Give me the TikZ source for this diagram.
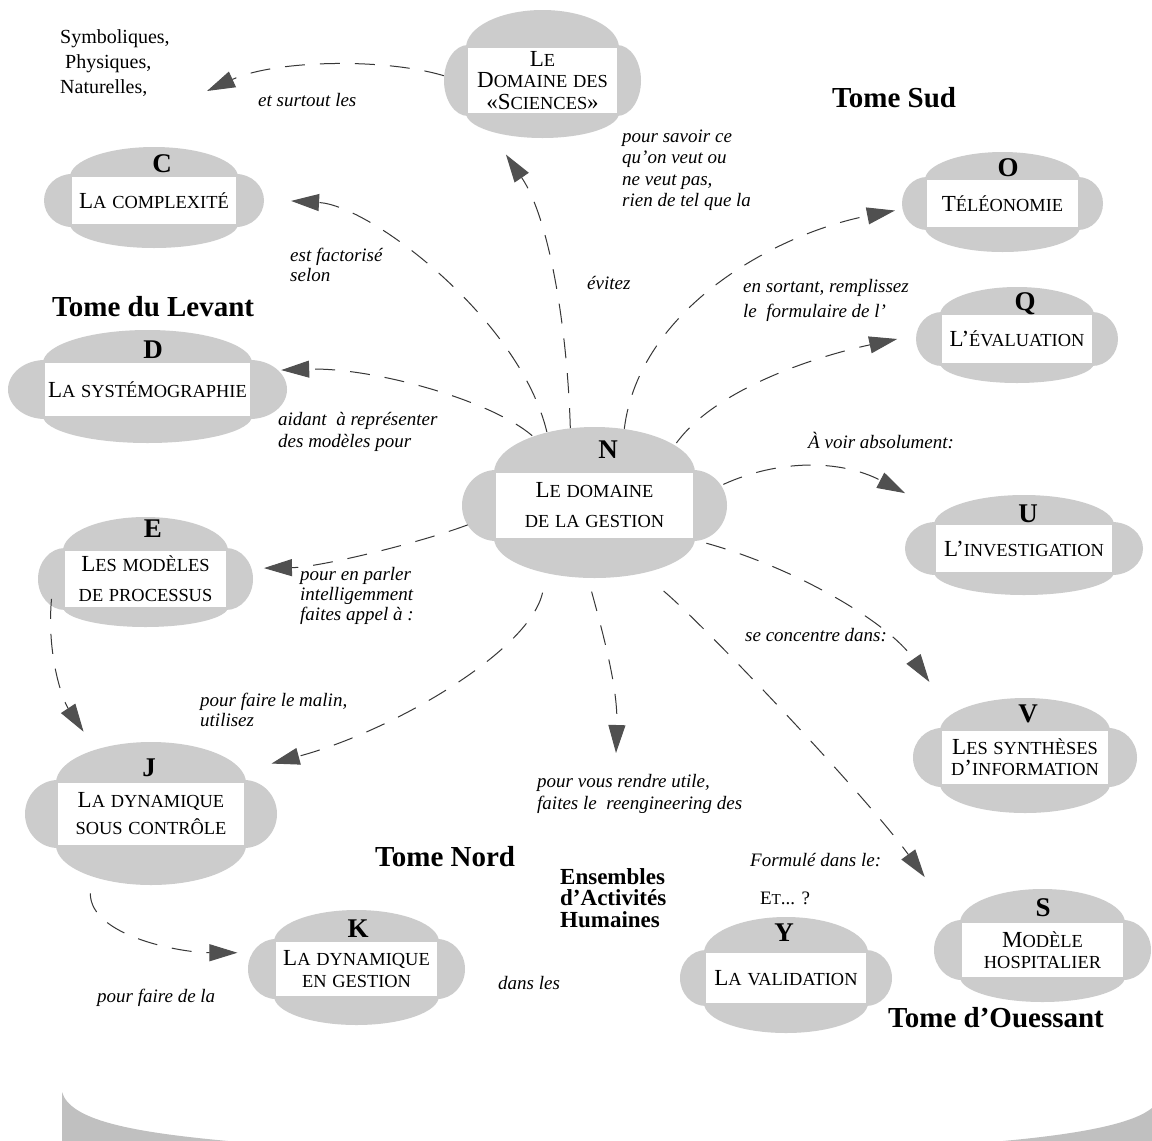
\documentclass[tikz,border=0pt]{standalone}
\usepackage{fontspec}
\setmainfont{Liberation Serif}
\usetikzlibrary{arrows.meta,shapes.geometric}

\definecolor{cloudgray}{RGB}{204,204,204}
\definecolor{bandgray}{RGB}{192,192,192}
\definecolor{linegray}{RGB}{55,55,55}
\definecolor{headgray}{RGB}{80,80,80}

% small capitals built from scaled capitals
\makeatletter
\newcommand\fscsmall{\fontsize{\fpeval{0.8*\f@size}}{\f@baselineskip}\selectfont}
\makeatother
\ExplSyntaxOn
\cs_new_protected:Npn \__smcp_char:n #1
  {
    \str_if_eq:eeTF { \text_uppercase:n {#1} } { #1 }
      { #1 }
      { { \fscsmall \text_uppercase:n {#1} } }
  }
\NewDocumentCommand \fsc { m }
  {
    \seq_set_split:Nnn \l_tmpa_seq { ~ } {#1}
    \seq_map_indexed_inline:Nn \l_tmpa_seq
      {
        \int_compare:nNnT {##1} > { 1 } { \c_space_tl }
        \tl_map_function:nN {##2} \__smcp_char:n
      }
  }
\ExplSyntaxOff

% gray cloud: body with rounded caps, two side lobes, and an outline node
% #1 name, #2 cx, #3 cy, #4 box width, #5 box height, #6 top cap, #7 bottom cap, #8 lobe
\newcommand\cloud[8]{%
  \fill[cloudgray] ({#2-#4/2-2},{#3-#5/2})
     arc[start angle=180,end angle=360,x radius={#4/2+2},y radius={#6}]
     -- ({#2+#4/2+2},{#3+#5/2})
     arc[start angle=0,end angle=180,x radius={#4/2+2},y radius={#7}] -- cycle;
  \fill[cloudgray] ({#2-#4/2},{#3}) ellipse[x radius={#8},y radius={#5/2+3}];
  \fill[cloudgray] ({#2+#4/2},{#3}) ellipse[x radius={#8},y radius={#5/2+3}];
  \node[cloudoutline, minimum width={#4+2*#8}, minimum height={#5+#6+#7}]
     (#1) at ({#2},{#3+(#7-#6)/2}) {};
}

\tikzset{
  cloudoutline/.style={ellipse, inner sep=0pt},
  labelbox/.style={fill=white, inner sep=0pt, align=center},
  boxfont/.style={font=\fontsize{23}{#1}\selectfont},
  cloudtag/.style={font=\bfseries\fontsize{27}{27}\selectfont, inner sep=0pt, anchor=base},
  notetext/.style={font=\itshape\fontsize{19}{#1}\selectfont, inner sep=0pt, anchor=west, align=left},
  notetext/.default=21,
  tomelabel/.style={font=\bfseries\fontsize{29}{29}\selectfont, inner sep=0pt, anchor=west},
  linkarrow/.style={draw=linegray, line width=1pt, dash pattern=on 20pt off 15pt,
    -{Triangle[length=28pt,width=17pt,color=headgray]}}
}

\begin{document}
\begin{tikzpicture}[x=1pt,y=-1pt]
\fill[white] (0,0) rectangle (1152,1141);
\useasboundingbox (0,0) rectangle (1152,1141);

% bottom band
\fill[bandgray] (62,1092) .. controls (70,1120) and (130,1132) .. (228,1141) -- (62,1141) -- cycle;
\fill[bandgray] (1003,1141) .. controls (1090,1133) and (1135,1122) .. (1152,1108) -- (1152,1141) -- cycle;

% clouds
\cloud{Sci}{542.5}{80.5}{149}{65}{38}{25}{24}
\cloud{C}{154}{200.5}{164}{47}{30}{24}{28}
\cloud{D}{147.5}{389.5}{205}{53}{33}{27}{37}
\cloud{E}{145.5}{579}{161}{56}{34}{20}{27}
\cloud{J}{151}{814}{186}{62}{41}{40}{33}
\cloud{K}{356.5}{969}{161}{54}{32}{29}{28}
\cloud{N}{594.5}{505.5}{197}{65}{46}{40}{34}
\cloud{O}{1002.5}{203.5}{151}{47}{28}{25}{25}
\cloud{Q}{1017}{339}{150}{48}{28}{20}{26}
\cloud{U}{1024}{548.5}{176}{47}{30}{23}{31}
\cloud{V}{1025}{757.5}{166}{53}{33}{29}{29}
\cloud{S}{1042.5}{950}{161}{54}{34}{25}{28}
\cloud{Y}{786}{978}{160}{50}{36}{30}{26}

% label boxes
\node[labelbox, boxfont=21.5, minimum width=149pt, minimum height=65pt] (Scibox) at (542.5,80.5)
  {\fsc{Le}\\\fsc{Domaine des}\\\fsc{«Sciences»}};
\node[labelbox, boxfont=27, minimum width=164pt, minimum height=47pt] (Cbox) at (154,200.5) {\fsc{La complexité}};
\node[labelbox, boxfont=27, minimum width=205pt, minimum height=53pt] (Dbox) at (147.5,389.5) {\fsc{La systémographie}};
\node[labelbox, boxfont=30, minimum width=161pt, minimum height=56pt] (Ebox) at (145.5,579) {\fsc{Les modèles}\\\fsc{de processus}};
\node[labelbox, boxfont=27, minimum width=186pt, minimum height=62pt] (Jbox) at (151,814) {\fsc{La dynamique}\\\fsc{sous contrôle}};
\node[labelbox, boxfont=22, minimum width=161pt, minimum height=54pt] (Kbox) at (356.5,969) {\fsc{La dynamique}\\\fsc{en gestion}};
\node[labelbox, boxfont=30, minimum width=197pt, minimum height=65pt] (Nbox) at (594.5,505.5) {\fsc{Le domaine}\\\fsc{de la gestion}};
\node[labelbox, boxfont=27, minimum width=151pt, minimum height=47pt] (Obox) at (1002.5,203.5) {\fsc{Téléonomie}};
\node[labelbox, boxfont=27, minimum width=150pt, minimum height=48pt] (Qbox) at (1017,339) {\fsc{L’évaluation}};
\node[labelbox, boxfont=27, minimum width=176pt, minimum height=47pt] (Ubox) at (1024,548.5) {\fsc{L’investigation}};
\node[labelbox, boxfont=21, minimum width=166pt, minimum height=53pt] (Vbox) at (1025,757.5) {\fsc{Les synthèses}\\\fsc{d’information}};
\node[labelbox, boxfont=21, minimum width=161pt, minimum height=54pt] (Sbox) at (1042.5,950) {\fsc{Modèle}\\\fsc{hospitalier}};
\node[labelbox, boxfont=27, minimum width=160pt, minimum height=50pt] (Ybox) at (786,978) {\fsc{La validation}};

% letters
\node[cloudtag] (Ctag) at (162,172) {C};
\node[cloudtag] (Dtag) at (153,358) {D};
\node[cloudtag] (Etag) at (153,537) {E};
\node[cloudtag] (Jtag) at (149,776) {J};
\node[cloudtag] (Ktag) at (358,937) {K};
\node[cloudtag] (Ntag) at (608,458) {N};
\node[cloudtag] (Otag) at (1008,176) {O};
\node[cloudtag] (Qtag) at (1025,310) {Q};
\node[cloudtag] (Utag) at (1028,522) {U};
\node[cloudtag] (Vtag) at (1028,722) {V};
\node[cloudtag] (Stag) at (1043,916) {S};
\node[cloudtag] (Ytag) at (784,941) {Y};

% free texts
\node[inner sep=0pt, anchor=west, align=left, font=\fontsize{20}{25}\selectfont] (sciencelist) at (60,63)
  {Symboliques,\\\hspace*{5pt}Physiques,\\Naturelles,};
\node[inner sep=0pt, font=\fontsize{19}{19}\selectfont] (etq) at (785,898) {\fsc{Et... ?}};
\node[inner sep=0pt, anchor=west, align=left, font=\bfseries\fontsize{23}{21.5}\selectfont] (eah) at (560,898)
  {Ensembles\\d’Activités\\Humaines};

\node[tomelabel] (tsud) at (832,98) {Tome Sud};
\node[tomelabel] (tlevant) at (52,307) {Tome du Levant};
\node[tomelabel] (tnord) at (375,857) {Tome Nord};
\node[tomelabel] (touessant) at (888,1018) {Tome d’Ouessant};

\node[notetext] (lsurtout) at (258,100) {et surtout les};
\node[notetext=21.5] (lsavoir) at (622,170) {pour savoir ce\\qu’on veut ou\\ne veut pas,\\rien de tel que la};
\node[notetext=20] (lfactor) at (290,265) {est factorisé\\selon};
\node[notetext] (levitez) at (587,283) {évitez};
\node[notetext=25] (lsortant) at (743,300) {en sortant, remplissez\\le~~formulaire de l’};
\node[notetext=22] (laidant) at (278,432) {aidant~~à représenter\\des modèles pour};
\node[notetext] (lvoir) at (808,440) {À voir absolument:};
\node[notetext=20] (lparler) at (300,596) {pour en parler\\intelligemment\\faites appel à :};
\node[notetext] (lconcentre) at (745,635) {se concentre dans:};
\node[notetext=20] (lmalin) at (200,710) {pour faire le malin,\\utilisez};
\node[notetext=22] (lutile) at (537,794) {pour vous rendre utile,\\faites le~~reengineering des};
\node[notetext] (lformule) at (750,860) {Formulé dans le:};
\node[notetext] (ldans) at (498,983) {dans les};
\node[notetext] (lfaire) at (97,998) {pour faire de la};

% free arrow ends
\coordinate (symbtip) at (207,91);
\coordinate (downtip) at (616,753);

% connectors
\draw[linkarrow] (Sci.181) .. controls +(-60,-18) and +(68,-31) .. (symbtip);
\draw[linkarrow, shorten >=33pt] (N.108) .. controls +(-3,-100) and +(62,91) .. (Sci.224);
\draw[linkarrow, shorten >=27pt] (N.124) .. controls +(-27,-112) and +(107,6) .. (C.-1);
\draw[linkarrow] (N.133) .. controls +(-42,-36) and +(90,-3) .. (D.7);
\draw[linkarrow, shorten >=11pt] (N.190) .. controls +(-48,18) and +(67,-1) .. (E.2);
\draw[linkarrow, shorten <=20pt, shorten >=22pt] (N.236) .. controls +(-17,77) and +(145,-39) .. (J.24);
\draw[linkarrow, shorten <=14pt] (N.265) .. controls +(17,62) and +(2,-63) .. (downtip);
\draw[linkarrow, shorten <=28pt, shorten >=46pt] (N.-56) .. controls +(60,50) and +(-88,-121) .. (S.161);
\draw[linkarrow, shorten >=37pt] (N.-20) .. controls +(90,25) and +(-62,-90) .. (V.150);
\draw[linkarrow, shorten >=37pt] (N.8) .. controls +(55,-25) and +(-98,-51) .. (U.158);
\draw[linkarrow, shorten >=19pt] (N.36) .. controls +(40,-55) and +(-98,21) .. (Q.180);
\draw[linkarrow, shorten >=8pt] (N.68) .. controls +(15,-120) and +(-128,25) .. (O.184);
\draw[linkarrow, shorten >=21pt] (E.196) .. controls +(-5,55) and +(-33,-50) .. (J.131);
\draw[linkarrow, shorten <=17pt, shorten >=14pt] (J.226) .. controls +(0,60) and +(-70,0) .. (K.172);
\end{tikzpicture}
\end{document}
